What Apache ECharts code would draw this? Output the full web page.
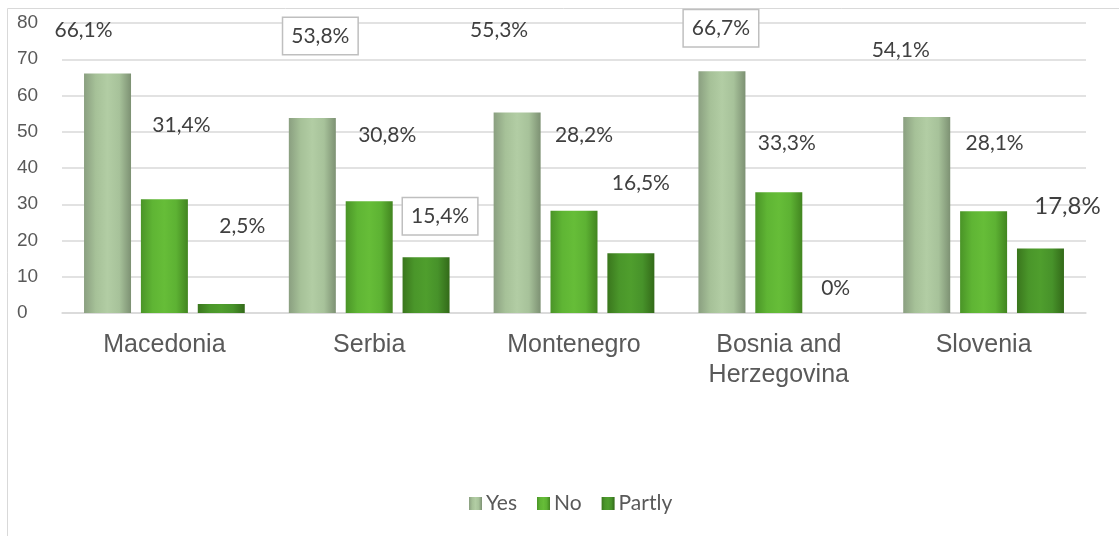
<!DOCTYPE html>
<html>
<head>
<meta charset="utf-8">
<script src="https://cdn.jsdelivr.net/npm/echarts@6/dist/echarts.min.js"></script>
<style>
  html, body { margin: 0; padding: 0; background: #fff; }
  #chart { width: 1119px; height: 536px; }
</style>
</head>
<body>
<div id="chart"></div>
<script>
// data
const categories = ['Macedonia', 'Serbia', 'Montenegro', 'Bosnia and\nHerzegovina', 'Slovenia']
const yesValues = [66.1, 53.8, 55.3, 66.7, 54.1]
const noValues = [31.4, 30.8, 28.2, 33.3, 28.1]
const partlyValues = [2.5, 15.4, 16.5, 0, 17.8]
const yTicks = { min: 0, max: 80, interval: 10 }

// label layout (labels were moved by hand in the original)
const yesOffsets = [[-24, -31], [8, -64], [-18, -70], [-1, -25], [-26, -55]]
const noOffsets = [[17, -62], [18, -54], [10, -64], [8, -37], [11, -56]]
const partlyOffsets = [[21, -66], [14, -23], [10, -58], [0, -13], [27, -28]]
const yesBoxed = [false, true, false, true, false]
const partlyBoxed = [false, true, false, false, false]
const partlyBig = [false, false, false, false, true]

const labelFont = 'Lato, "Open Sans", sans-serif'

function fmt(v) {
  return v === 0 ? '0%' : v.toFixed(1).replace('.', ',') + '%'
}

function gradient(stops) {
  return {
    type: 'linear', x: 0, y: 0, x2: 1, y2: 0,
    colorStops: stops.map((c, i) => ({ offset: i / (stops.length - 1), color: c }))
  }
}

const yesColor = gradient(['#8a9f80', '#a6c198', '#b2cda4', '#a7c29a', '#7d9173'])
const noColor = gradient(['#4a9427', '#5fb534', '#66bd38', '#5db233', '#428520'])
const partlyColor = gradient(['#3a761d', '#4a962a', '#4f9e2d', '#47922a', '#336a19'])

function buildData(values, offsets, boxed, big) {
  return values.map((v, i) => {
    const label = { offset: offsets[i] }
    if (boxed && boxed[i]) {
      label.borderColor = '#bfbfbf'
      label.borderWidth = 1.5
      label.padding = [6, 8]
      label.backgroundColor = '#fff'
    }
    if (big && big[i]) {
      label.fontSize = 24
      label.lineHeight = 28
    }
    return { value: v, label }
  })
}

function makeSeries(name, values, color, offsets, boxed, big) {
  return {
    name,
    type: 'bar',
    barWidth: 47,
    barGap: '21%',
    itemStyle: { color },
    label: {
      show: true,
      position: 'top',
      distance: 0,
      formatter: p => fmt(p.value),
      fontFamily: labelFont,
      fontSize: 21,
      lineHeight: 24,
      color: '#404040'
    },
    data: buildData(values, offsets, boxed, big)
  }
}

const chart = echarts.init(document.getElementById('chart'))
chart.setOption({
  animation: false,
  graphic: [{
    type: 'rect',
    shape: { x: 7.5, y: 8.5, width: 1200, height: 600 },
    style: { fill: 'none', stroke: '#d9d9d9', lineWidth: 1 },
    silent: true,
    z: -10
  }],
  grid: { left: 62, right: 33, top: 23, bottom: 223 },
  legend: {
    data: ['Yes', 'No', 'Partly'],
    bottom: 17,
    left: 464,
    itemWidth: 13,
    itemHeight: 13,
    itemGap: 20,
    icon: 'rect',
    textStyle: { fontFamily: labelFont, fontSize: 21, color: '#595959', padding: [0, 0, 0, -1] }
  },
  xAxis: {
    type: 'category',
    data: categories,
    axisLine: { lineStyle: { color: '#d9d9d9', width: 1.5 } },
    axisTick: { show: false },
    axisLabel: {
      interval: 0,
      margin: 17,
      fontFamily: '"Liberation Sans", Arial, sans-serif',
      fontSize: 25,
      lineHeight: 30,
      color: '#595959'
    }
  },
  yAxis: {
    type: 'value',
    min: yTicks.min,
    max: yTicks.max,
    interval: yTicks.interval,
    axisLine: { show: false },
    axisTick: { show: false },
    splitLine: { lineStyle: { color: '#d9d9d9', width: 1.5 } },
    axisLabel: {
      align: 'left',
      margin: 45,
      fontFamily: '"Liberation Sans", Arial, sans-serif',
      fontSize: 19,
      color: '#595959'
    }
  },
  series: [
    makeSeries('Yes', yesValues, yesColor, yesOffsets, yesBoxed),
    makeSeries('No', noValues, noColor, noOffsets),
    makeSeries('Partly', partlyValues, partlyColor, partlyOffsets, partlyBoxed, partlyBig)
  ]
})
</script>
</body>
</html>
